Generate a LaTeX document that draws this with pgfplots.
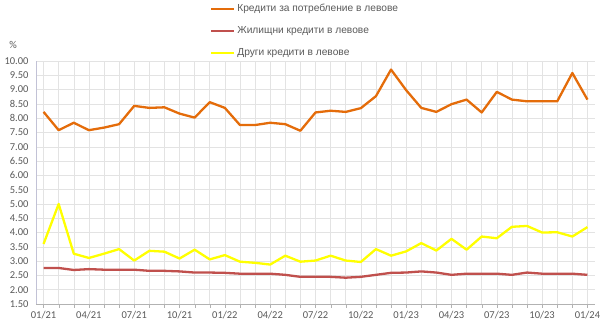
\documentclass[border=0pt]{standalone}
\usepackage{pgfplots}
\pgfplotsset{compat=1.18}
\usepackage{pgfplotstable}
\usepackage{fontspec}
\setmainfont{Carlito}
\newfontfamily\legfont{Liberation Sans}
\definecolor{corange}{HTML}{E46C0A}
\definecolor{cred}{HTML}{C0504D}
\definecolor{cyellow}{HTML}{FFFF00}
\definecolor{txt}{HTML}{595959}
\pgfplotstableread{
x cons hous other
0 8.22 2.76 3.60
1 7.58 2.76 5.00
2 7.84 2.69 3.26
3 7.58 2.72 3.11
4 7.67 2.70 3.26
5 7.79 2.70 3.42
6 8.43 2.70 3.02
7 8.36 2.66 3.36
8 8.38 2.66 3.33
9 8.16 2.64 3.09
10 8.02 2.60 3.40
11 8.56 2.60 3.06
12 8.36 2.59 3.21
13 7.76 2.56 2.98
14 7.76 2.56 2.94
15 7.84 2.56 2.88
16 7.79 2.52 3.19
17 7.56 2.45 2.98
18 8.20 2.45 3.02
19 8.26 2.45 3.19
20 8.22 2.42 3.02
21 8.35 2.45 2.97
22 8.77 2.52 3.42
23 9.70 2.59 3.19
24 8.98 2.60 3.34
25 8.36 2.64 3.63
26 8.22 2.60 3.37
27 8.49 2.52 3.78
28 8.65 2.56 3.40
29 8.20 2.56 3.86
30 8.92 2.56 3.80
31 8.65 2.52 4.20
32 8.59 2.60 4.23
33 8.59 2.56 4.00
34 8.59 2.56 4.01
35 9.58 2.56 3.86
36 8.65 2.52 4.19
}\data
\begin{document}
\begin{tikzpicture}[x=1pt,y=1pt]
\useasboundingbox (0,0) rectangle (605,326);
\begin{axis}[at={(36pt,22pt)}, anchor=south west, scale only axis,
  width=559pt, height=243pt,
  xmin=-0.5, xmax=36.5, ymin=1.5, ymax=10,
  xtick={0,3,...,36},
  xticklabels={01/21,04/21,07/21,10/21,01/22,04/22,07/22,10/22,01/23,04/23,07/23,10/23,01/24},
  minor xtick={0,...,36},
  ytick={1.5,2,2.5,3,3.5,4,4.5,5,5.5,6,6.5,7,7.5,8,8.5,9,9.5,10},
  /pgf/number format/assume math mode=true,
  yticklabel style={/pgf/number format/.cd,fixed,fixed zerofill,precision=2},
  ticklabel style={font=\fontsize{10.5}{12}\selectfont, text=txt},
  axis x line*=bottom, axis y line*=left,
  x axis line style={gray!60},
  y axis line style={blue!20!gray!40},
  tick align=outside,
  major tick length=4pt, minor tick length=4pt,
  xtick style={gray!60},
  ytick style={draw=none},
  grid=both,
  major grid style={gray!22, line width=0.5pt},
  minor grid style={gray!22, line width=0.5pt},
  legend style={at={(axis description cs:0.311,1.242)}, anchor=north west,
    draw=none, fill=none, font=\legfont\fontsize{10.2}{11.5}\selectfont,
    text=txt, row sep=9.5pt, inner sep=0pt},
  legend cell align=left,
  legend image code/.code={\draw[#1] (0pt,0pt) -- (23pt,0pt);},
  clip=false,
]
\addplot[corange, line width=2.3pt, line join=round] table[x=x,y=cons]{\data};
\addlegendentry{Кредити за потребление в левове}
\addplot[cred, line width=2.3pt, line join=round] table[x=x,y=hous]{\data};
\addlegendentry{Жилищни кредити в левове}
\addplot[cyellow, line width=2.3pt, line join=round] table[x=x,y=other]{\data};
\addlegendentry{Други кредити в левове}
\node[font=\fontsize{10.5}{12}\selectfont, text=txt] at (axis description cs:-0.041,1.066) {\%};
\end{axis}
\end{tikzpicture}
\end{document}
